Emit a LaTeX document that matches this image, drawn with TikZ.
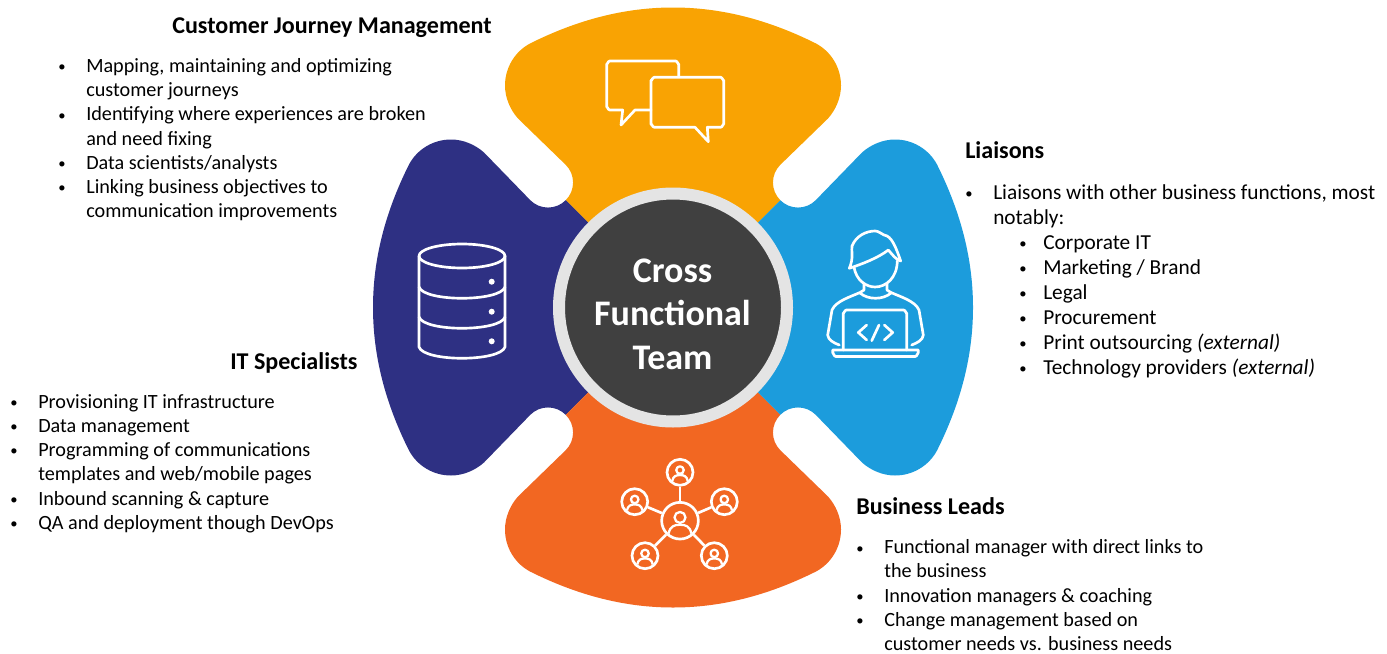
\documentclass[tikz,border=0pt]{standalone}
\usepackage{fontspec}
\setmainfont{Carlito}
\definecolor{petalTop}{HTML}{F9A303}
\definecolor{petalLeft}{HTML}{2E3083}
\definecolor{petalBottom}{HTML}{F26722}
\definecolor{petalRight}{HTML}{1C9CDC}
\definecolor{hubFill}{HTML}{404040}
\definecolor{hubRing}{HTML}{E4E4E4}
\newcommand\bu{\makebox[21pt][l]{\raisebox{0.6pt}{\fontsize{11}{11}\selectfont •}}}
\newcommand\nb{\makebox[21pt][l]{}}
\newcommand\sbu{\hspace{40.5pt}\makebox[18pt][l]{\raisebox{0.6pt}{\fontsize{11}{11}\selectfont •}}}
\newcommand\petalpath{(0,0) -- (-107.3,-107.3) .. controls (-97.5,-117) and (-97.5,-133) .. (-107.3,-142.7) -- (-155,-189) .. controls (-163,-198) and (-168,-210) .. (-168,-222) .. controls (-168,-240) and (-158,-256) .. (-143,-264) .. controls (-95,-288) and (-48,-300) .. (0,-300) .. controls (48,-300) and (95,-288) .. (143,-264) .. controls (158,-256) and (168,-240) .. (168,-222) .. controls (168,-210) and (163,-198) .. (155,-189) -- (107.3,-142.7) .. controls (97.5,-133) and (97.5,-117) .. (107.3,-107.3) -- cycle}
\tikzset{
  title/.style={anchor=base west,inner sep=0pt,font=\fontsize{18.05}{20}\selectfont\bfseries},
  body/.style={anchor=north west,inner sep=0pt,align=left,font=\fontsize{15.15}{18.2}\selectfont},
  icon/.style={draw=white,line width=2pt,line join=round,line cap=round},
  netdisc/.style={circle,draw=white,line width=2pt,inner sep=0pt,minimum size=#1},
  hub/.style={circle,fill=hubFill,draw=hubRing,line width=9pt,inner sep=0pt,minimum size=171pt},
  hubtext/.style={text=white,align=center,inner sep=0pt,font=\fontsize{27}{32.6}\selectfont\bfseries}
}
\begin{document}
\begin{tikzpicture}[x=0.75pt,y=-0.75pt]
\useasboundingbox (0,0) rectangle (1387,653);
\foreach \a/\c in {0/petalTop,90/petalLeft,180/petalBottom,270/petalRight}{
  \begin{scope}[shift={(673,307.5)},rotate=\a]
    \fill[\c] \petalpath;
  \end{scope}
}
\node[hub] (centre) at (673,307.5) {};
\node[hubtext] (centretext) at (672.5,314) {Cross\\Functional\\Team};

% chat icon
\draw[icon] (678.7,76) -- (678.7,64) to[out=-90,in=0] (675.7,61) -- (609.7,61) to[out=180,in=-90] (606.7,64) -- (606.7,107) to[out=90,in=180] (609.7,110) -- (622.7,110) -- (621,125) -- (635,110) -- (651,110);
\draw[icon] (654.3,77.3) -- (720.7,77.3) to[out=0,in=-90] (723.7,80.3) -- (723.7,124.3) to[out=90,in=0] (720.7,127.3) -- (707.3,127.3) -- (708.3,141.7) -- (695,127.3) -- (654.3,127.3) to[out=180,in=90] (651,124.3) -- (651,80.3) to[out=-90,in=180] cycle;

% database icon
\draw[icon] (462,256) ellipse[x radius=43,y radius=12];
\draw[icon] (419,256) -- (419,347) .. controls (424,362) and (500,362) .. (505,347) -- (505,256);
\draw[icon] (419,287) .. controls (424,302) and (500,302) .. (505,287);
\draw[icon] (419,317) .. controls (424,332) and (500,332) .. (505,317);
\fill[white] (491.7,281.7) circle[radius=3] (491.7,311.7) circle[radius=3] (491.7,341.3) circle[radius=3];

% person at laptop icon
\draw[icon] (849.3,268.3) .. controls (854,258) and (851,250) .. (852,246) .. controls (856,236) and (866,231) .. (875,231) .. controls (879,231) and (881,234) .. (884,235) .. controls (892,236) and (896,248) .. (900.7,261) .. controls (896,260) and (892,254) .. (888.3,250) .. controls (878,258) and (862,264) .. (849.3,268.3);
\draw[icon] (854,267) .. controls (856,280) and (866,287) .. (875,287) .. controls (886,287) and (897,278) .. (897.3,261);
\draw[icon] (864,284) -- (864,290) -- (860,292.5) .. controls (850,297) and (836,301) .. (832,310) -- (827.7,335) .. controls (828,340) and (834,343) .. (839.3,345);
\draw[icon] (887,284) -- (887,290) -- (891,292.5) .. controls (901,297) and (915,301) .. (919,310) -- (923.3,335) .. controls (923,340) and (917,343) .. (911.7,345);
\draw[icon] (860,293) .. controls (868,300) and (883,300) .. (891,293);
\draw[icon] (843.3,350) -- (843.3,313) to[out=-90,in=180] (846.3,310) -- (903.7,310) to[out=0,in=-90] (906.7,313) -- (906.7,350);
\draw[icon] (832.7,350) -- (918.3,350) -- (918.3,353) to[out=90,in=0] (915.3,356.5) -- (835.7,356.5) to[out=180,in=90] (832.7,353) -- cycle;
\draw[icon] (866.7,325) -- (858.3,332.5) -- (866.7,340);
\draw[icon] (884.3,325) -- (892.7,332.5) -- (884.3,340);
\draw[icon] (879,325) -- (871.7,340.7);

% network icon
\node[netdisc=27.5pt] (nc) at (680,520.7) {};
\node[netdisc=19.5pt] (n1) at (680,472.3) {};
\node[netdisc=19.5pt] (n2) at (634.7,501.7) {};
\node[netdisc=19.5pt] (n3) at (724.3,501.7) {};
\node[netdisc=19.5pt] (n4) at (645,555.7) {};
\node[netdisc=19.5pt] (n5) at (714.3,555.7) {};
\foreach \n in {n1,n2,n3,n4,n5}{ \draw[icon,line cap=butt] (nc) -- (\n); }
\foreach \x/\y/\r in {680/520.7/18.3,680/472.3/12.5,634.7/501.7/12.5,724.3/501.7/12.5,645/555.7/12.5,714.3/555.7/12.5}{
  \draw[icon,line width=1.7pt] (\x,\y-0.18*\r) circle[radius=0.3*\r];
  \draw[icon,line width=1.7pt,line cap=butt] (\x-0.62*\r,\y+0.7*\r) .. controls (\x-0.55*\r,\y+0.3*\r) and (\x-0.3*\r,\y+0.22*\r) .. (\x,\y+0.22*\r) .. controls (\x+0.3*\r,\y+0.22*\r) and (\x+0.55*\r,\y+0.3*\r) .. (\x+0.62*\r,\y+0.7*\r);
}

% texts
\node[title] (t1) at (172,33.5) {Customer Journey Management};
\node[body] (b1) at (58,58) {\bu Mapping, maintaining and optimizing\\\nb customer journeys\\\bu Identifying where experiences are broken\\\nb and need fixing\\\bu Data scientists/analysts\\\bu Linking business objectives to\\\nb communication improvements};
\node[title] (t2) at (965,158.5) {Liaisons};
\node[body,font=\fontsize{16}{18.8}\selectfont] (b2) at (965,184) {\bu Liaisons with other business functions, most\\\nb notably:\\\sbu Corporate IT\\\sbu Marketing / Brand\\\sbu Legal\\\sbu Procurement\\\sbu Print outsourcing \textit{(external)}\\\sbu Technology providers \textit{(external)}};
\node[title] (t3) at (230,369.5) {IT Specialists};
\node[body] (b3) at (10,394) {\bu Provisioning IT infrastructure\\\bu Data management\\\bu Programming of communications\\\nb templates and web/mobile pages\\\bu Inbound scanning \& capture\\\bu QA and deployment though DevOps};
\node[title] (t4) at (856,514.5) {Business Leads};
\node[body,font=\fontsize{15.15}{18.1}\selectfont] (b4) at (856,539.5) {\bu Functional manager with direct links to\\\nb the business\\\bu Innovation managers \& coaching\\\bu Change management based on\\\nb customer needs vs. business needs};
\end{tikzpicture}
\end{document}
